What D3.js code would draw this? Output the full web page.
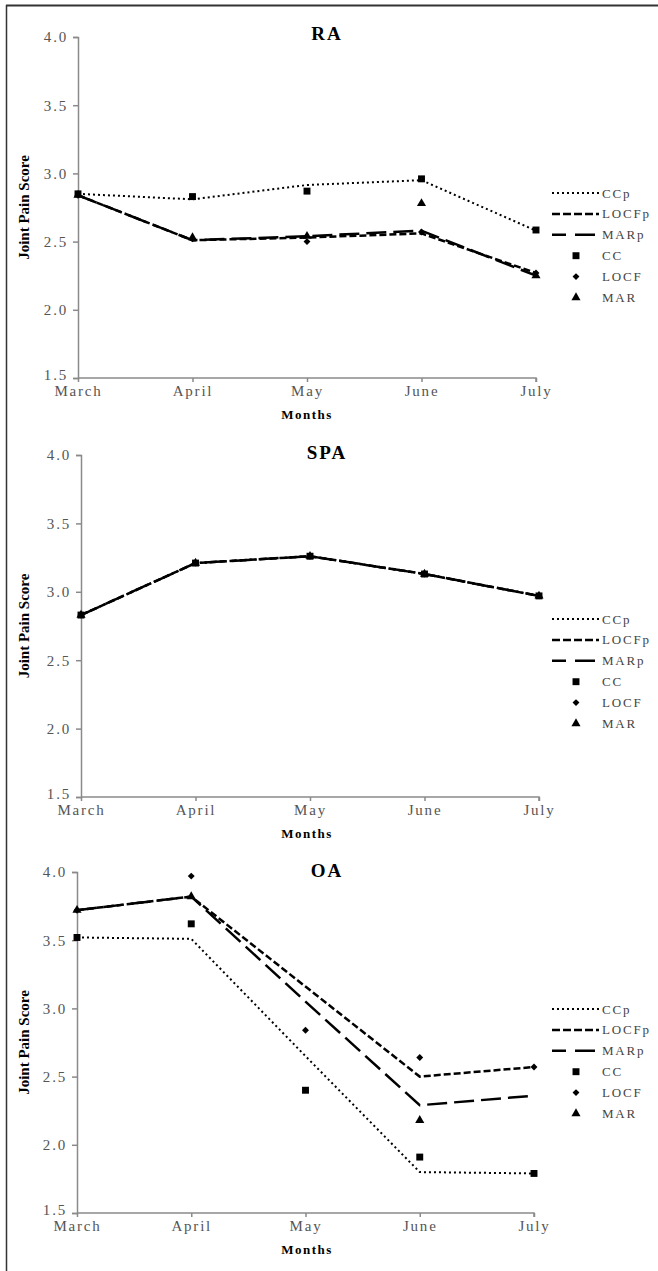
<!DOCTYPE html>
<html>
<head>
<meta charset="utf-8">
<script src="https://cdn.jsdelivr.net/npm/d3@7"></script>
<style>
  body { margin: 0; background: #fff; }
  svg text { font-family: "Liberation Serif", "Times New Roman", serif; }
</style>
</head>
<body>
<div id="container"></div>
<script>
var svgWidth = 658;
var svgHeight = 1271;

// data (null = marker not visible)
var months = ["March", "April", "May", "June", "July"];
var yTicks = [1.5, 2.0, 2.5, 3.0, 3.5, 4.0];
var legendNames = ["CCp", "LOCFp", "MARp", "CC", "LOCF", "MAR"];

var raCCp   = [2.85, 2.81, 2.915, 2.95, 2.58];
var raLOCFp = [2.84, 2.51, 2.53, 2.56, 2.27];
var raMARp  = [2.84, 2.51, 2.54, 2.58, 2.25];
var raCC    = [2.85, 2.83, 2.87, 2.96, 2.585];
var raLOCF  = [2.84, 2.52, 2.50, 2.57, 2.27];
var raMAR   = [2.84, 2.53, 2.54, 2.78, 2.25];

var spaCCp   = [2.83, 3.21, 3.26, 3.13, 2.97];
var spaLOCFp = [2.83, 3.21, 3.26, 3.13, 2.97];
var spaMARp  = [2.83, 3.21, 3.26, 3.13, 2.97];
var spaCC    = [2.83, 3.21, 3.26, 3.13, 2.97];
var spaLOCF  = [2.83, 3.21, 3.26, 3.13, 2.97];
var spaMAR   = [2.83, 3.21, 3.26, 3.13, 2.97];

var oaCCp   = [3.52, 3.51, 2.65, 1.80, 1.79];
var oaLOCFp = [3.72, 3.82, 3.16, 2.50, 2.57];
var oaMARp  = [3.72, 3.82, 3.05, 2.29, 2.36];
var oaCC    = [3.52, 3.62, 2.40, 1.91, 1.79];
var oaLOCF  = [3.72, 3.97, 2.84, 2.64, 2.57];
var oaMAR   = [3.72, 3.82, null, 2.18, null];

var panels = [
  {title: "RA", x0: 78, x1: 536, top: 37, bottom: 378, titleY: 40, legendY: 193,
   lines: [raCCp, raLOCFp, raMARp], points: [raCC, raLOCF, raMAR]},
  {title: "SPA", x0: 81, x1: 539, top: 455, bottom: 797, titleY: 459, legendY: 619,
   lines: [spaCCp, spaLOCFp, spaMARp], points: [spaCC, spaLOCF, spaMAR]},
  {title: "OA", x0: 77, x1: 534, top: 872, bottom: 1213, titleY: 877, legendY: 1009,
   lines: [oaCCp, oaLOCFp, oaMARp], points: [oaCC, oaLOCF, oaMAR]}
];

var lineStyles = [
  {dash: "2,3", width: 2},
  {dash: "7,3", width: 2.5},
  {dash: "20,7", width: 2.5}
];
var legendDash = ["2,3", "8,3", "14,9,6,0"];
var symbols = [d3.symbolSquare, d3.symbolSquare, d3.symbolTriangle];
var symbolSizes = [48, 24, 36];
var symbolRotate = [0, 45, 0];

var svg = d3.select('body').select('#container').append('svg')
    .attr("width", svgWidth)
    .attr("height", svgHeight);

// frame lines (top and left only)
svg.append("line").attr("x1", 6).attr("x2", svgWidth).attr("y1", 5.5).attr("y2", 5.5)
    .style("stroke", "#333").style("stroke-width", 2);
svg.append("line").attr("x1", 6.5).attr("x2", 6.5).attr("y1", 5).attr("y2", svgHeight)
    .style("stroke", "#333").style("stroke-width", 1.5);

panels.forEach(function (p) {
  var x = d3.scalePoint().domain(months).range([p.x0, p.x1]);
  var y = d3.scaleLinear().domain([1.5, 4]).range([p.bottom, p.top]);
  var g = svg.append("g");

  var yAxis = g.append("g")
      .attr("transform", "translate(" + p.x0 + ",0)")
      .call(d3.axisLeft(y).tickValues(yTicks).tickFormat(d3.format(".1f")).tickSize(5).tickPadding(5));
  var xAxis = g.append("g")
      .attr("transform", "translate(0," + p.bottom + ")")
      .call(d3.axisBottom(x).tickSize(4).tickPadding(3));

  [yAxis, xAxis].forEach(function (a) {
    a.select(".domain").style("stroke", "#8a8a8a").style("stroke-width", 1.5);
    a.selectAll(".tick line").style("stroke", "#8a8a8a").style("stroke-width", 1.5);
    a.selectAll(".tick text")
        .style("font-size", "15px")
        .style("letter-spacing", "1.8px")
        .style("fill", "#555");
  });
  // lift the lowest y label a little so it clears "March"
  yAxis.selectAll(".tick text").filter(function (d) { return d === 1.5; }).attr("dy", "0.1em");
  xAxis.select(".domain").attr("d", "M" + p.x0 + ",0H" + p.x1 + "V4");

  g.append("text")
      .attr("x", 327).attr("y", p.titleY)
      .attr("text-anchor", "middle")
      .style("font-size", "19px").style("font-weight", "bold")
      .style("letter-spacing", "2px")
      .text(p.title);

  g.append("text")
      .attr("transform", "translate(29," + ((p.top + p.bottom) / 2) + ") rotate(-90)")
      .attr("text-anchor", "middle")
      .style("font-size", "15px").style("font-weight", "bold")
      .text("Joint Pain Score");

  g.append("text")
      .attr("x", 307).attr("y", p.bottom + 41)
      .attr("text-anchor", "middle")
      .style("font-size", "13px").style("font-weight", "bold")
      .style("letter-spacing", "1.5px")
      .text("Months");

  var line = d3.line()
      .x(function (d, i) { return x(months[i]); })
      .y(function (d) { return y(d); });

  // draw MARp first so the shorter dashes sit on top
  [2, 1, 0].forEach(function (k) {
    g.append("path")
        .attr("d", line(p.lines[k]))
        .style("fill", "none")
        .style("stroke", "#000")
        .style("stroke-width", lineStyles[k].width)
        .style("stroke-dasharray", lineStyles[k].dash);
  });

  p.points.forEach(function (series, k) {
    var pts = series.map(function (v, i) { return {m: months[i], v: v}; })
        .filter(function (d) { return d.v !== null; });
    g.selectAll(null).data(pts).enter().append("path")
        .attr("d", d3.symbol().type(symbols[k]).size(symbolSizes[k]))
        .attr("transform", function (d) {
          return "translate(" + x(d.m) + "," + y(d.v) + ") rotate(" + symbolRotate[k] + ")";
        })
        .style("fill", "#000");
  });

  // legend
  var rowH = 20.9;
  var leg = g.append("g");
  legendNames.forEach(function (name, i) {
    var ly = p.legendY + i * rowH;
    if (i < 3) {
      leg.append("line")
          .attr("x1", 552).attr("x2", 599).attr("y1", ly).attr("y2", ly)
          .style("stroke", "#000")
          .style("stroke-width", lineStyles[i].width)
          .style("stroke-dasharray", legendDash[i]);
    } else {
      leg.append("path")
          .attr("d", d3.symbol().type(symbols[i - 3]).size(symbolSizes[i - 3]))
          .attr("transform", "translate(576," + ly + ") rotate(" + symbolRotate[i - 3] + ")")
          .style("fill", "#000");
    }
    leg.append("text")
        .attr("x", 602).attr("y", ly)
        .attr("dy", "0.35em")
        .style("font-size", "13px")
        .style("letter-spacing", "1.8px")
        .style("fill", "#444")
        .text(name);
  });
});
</script>
</body>
</html>
